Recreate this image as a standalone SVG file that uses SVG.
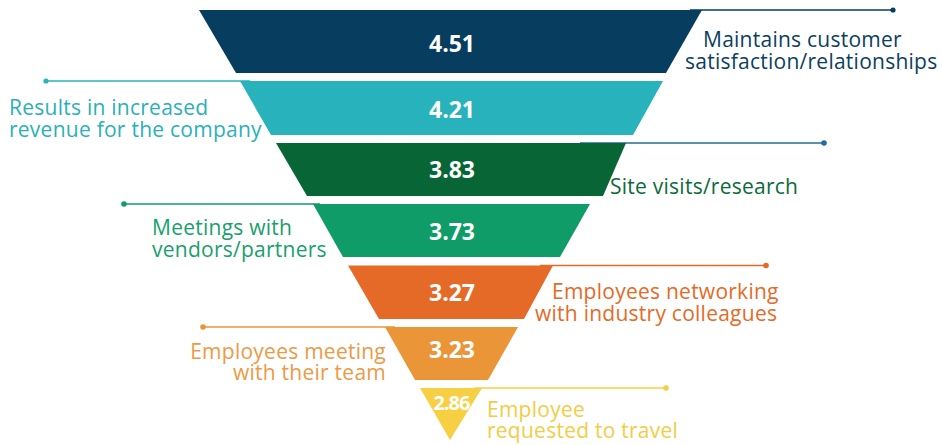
<svg xmlns="http://www.w3.org/2000/svg" width="942" height="445" viewBox="0 0 942 445">
<defs>
<radialGradient id="sh" cx="0.5" cy="1" r="0.5">
<stop offset="0" stop-color="#8a8a8a" stop-opacity="0.8"/>
<stop offset="0.7" stop-color="#b0b0b0" stop-opacity="0.4"/>
<stop offset="1" stop-color="#ffffff" stop-opacity="0"/>
</radialGradient>
</defs>
<style>
.num{font-family:"Open Sans","Liberation Sans",sans-serif;font-weight:bold;font-size:23px;fill:#ffffff;text-anchor:middle}
.lbl{font-family:"Open Sans","Liberation Sans",sans-serif;font-size:21px;letter-spacing:0.25px}
.ln{stroke-width:1.3;fill:none}
</style>
<rect width="942" height="445" fill="#ffffff"/>
<g id="shadows">
<ellipse cx="452" cy="81" rx="215" ry="5" fill="url(#sh)"/>
<ellipse cx="452" cy="142" rx="180" ry="5" fill="url(#sh)"/>
<ellipse cx="452" cy="204" rx="150" ry="5" fill="url(#sh)"/>
<ellipse cx="452" cy="265" rx="115" ry="5" fill="url(#sh)"/>
<ellipse cx="452" cy="327" rx="75" ry="5" fill="url(#sh)"/>
<ellipse cx="452" cy="388" rx="40" ry="4" fill="url(#sh)"/>
</g>
<g id="connectors">
<line class="ln" x1="690" y1="10" x2="893" y2="10" stroke="#073D5E"/><circle cx="893" cy="10" r="2.6" fill="#073D5E"/>
<line class="ln" x1="46" y1="81" x2="250" y2="81" stroke="#28B2BC"/><circle cx="46" cy="81" r="2.6" fill="#28B2BC"/>
<line class="ln" x1="580" y1="143" x2="824" y2="143" stroke="#236D96"/><circle cx="824" cy="143" r="2.8" fill="#236D96"/>
<line class="ln" x1="124" y1="204" x2="320" y2="204" stroke="#0F9C68"/><circle cx="124" cy="204" r="2.8" fill="#0F9C68"/>
<line class="ln" x1="540" y1="265.5" x2="766" y2="265.5" stroke="#E66A27"/><circle cx="766" cy="265.5" r="2.8" fill="#E66A27"/>
<line class="ln" x1="203" y1="327" x2="395" y2="327" stroke="#EB9539"/><circle cx="203" cy="327" r="2.8" fill="#EB9539"/>
<line class="ln" x1="475" y1="388" x2="666" y2="388" stroke="#F6CF43"/><circle cx="666" cy="388" r="2.8" fill="#F6CF43"/>
</g>
<g id="n1">
<polygon points="199,10 702,10 666,73 236,73" fill="#073D5E"/>
<text class="num" x="452" y="52">4.51</text>
<text class="lbl" fill="#0B3F60"><tspan x="703" y="47">Maintains customer</tspan><tspan x="685" y="69">satisfaction/relationships</tspan></text>
</g>
<g id="n2">
<polygon points="240,81 663,81 633,135 271,135" fill="#28B2BC"/>
<text class="num" x="452" y="118">4.21</text>
<text class="lbl" fill="#2AB0BA"><tspan x="9" y="115">Results in increased</tspan><tspan x="9" y="137">revenue for the company</tspan></text>
</g>
<g id="n3">
<polygon points="276,143 626,143 603,196 307,196" fill="#086636"/>
<text class="num" x="452" y="178">3.83</text>
<text class="lbl" fill="#0A6B3A"><tspan x="610" y="194">Site visits/research</tspan></text>
</g>
<g id="n4">
<polygon points="313,204 590,204 560,257 343,257" fill="#0F9C68"/>
<text class="num" x="452" y="240">3.73</text>
<text class="lbl" fill="#17A06C"><tspan x="152" y="235">Meetings with</tspan><tspan x="152" y="257">vendors/partners</tspan></text>
</g>
<g id="n5">
<polygon points="348,265.5 553,265.5 524,319 379,319" fill="#E66A27"/>
<text class="num" x="452" y="300.5">3.27</text>
<text class="lbl" fill="#E56A26"><tspan x="552" y="299">Employees networking</tspan><tspan x="535" y="321">with industry colleagues</tspan></text>
</g>
<g id="n6">
<polygon points="385,327 518,327 488,380 415,380" fill="#EB9539"/>
<text class="num" x="452" y="357.5">3.23</text>
<text class="lbl" fill="#EC9A44" text-anchor="end"><tspan x="386" y="359">Employees meeting</tspan><tspan x="386" y="380">with their team</tspan></text>
</g>
<g id="n7">
<polygon points="420,388 482,388 450,440" fill="#F6CF43"/>
<text class="num" x="451.5" y="410" style="font-size:20px;letter-spacing:-1px">2.86</text>
<text class="lbl" fill="#F3CC46"><tspan x="487" y="417">Employee</tspan><tspan x="487" y="438">requested to travel</tspan></text>
</g>
</svg>
